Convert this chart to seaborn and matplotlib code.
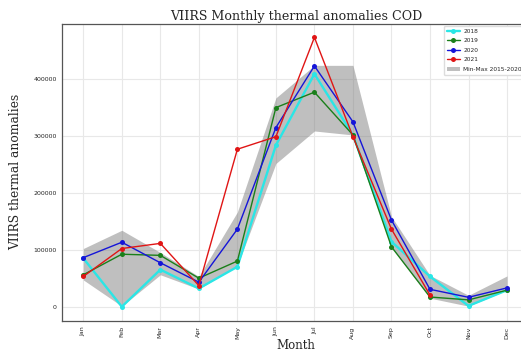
import numpy as np
import pandas as pd
import matplotlib
matplotlib.use("Agg")
import matplotlib.pyplot as plt
import seaborn as sns

months = ["Jan", "Feb", "Mar", "Apr", "May", "Jun", "Jul", "Aug", "Sep", "Oct", "Nov", "Dec"]
v2018 = [86000, 1000, 66000, 33000, 71000, 284000, 409000, 302000, 115000, 54000, 2500, 30000]
v2019 = [57000, 93000, 91000, 51000, 81000, 350000, 377000, 302000, 106000, 18000, 13000, 30000]
v2020 = [87000, 114000, 78000, 44000, 137000, 315000, 423000, 325000, 153000, 31500, 17500, 34000]
v2021 = [54000, 103000, 112000, 38000, 277000, 299000, 473000, 299000, 137000, 21500]
band_min = [48000, 2000, 57000, 32000, 73000, 252000, 309000, 302000, 105000, 16000, 2000, 30000]
band_max = [103000, 135000, 96000, 54000, 167000, 367000, 424000, 424000, 159000, 56000, 21000, 55000]

series = {"2018": v2018, "2019": v2019, "2020": v2020, "2021": v2021}
colors = {"2018": "#2ae6e6", "2019": "#1a7f1a", "2020": "#1515d8", "2021": "#e01515"}

sns.set_style("whitegrid", {"grid.color": "#e8e8e8", "axes.edgecolor": "#555555"})

fig = plt.figure(figsize=(5.21, 3.49), dpi=100)
ax = fig.add_axes([62.3 / 521, 1 - 320.7 / 349, (530 - 62.3) / 521, (320.7 - 23.7) / 349])

x_all = np.arange(len(months))
ax.fill_between(x_all, band_min, band_max, color="gray", alpha=0.5, lw=0,
                label="Min-Max 2015-2020", zorder=1)

for name, vals in series.items():
    df = pd.DataFrame({"x": x_all[:len(vals)], "y": vals})
    lw = 1.7 if name == "2018" else 1.0
    sns.lineplot(data=df, x="x", y="y", ax=ax, color=colors[name], marker="o",
                 markersize=3.6, markeredgewidth=0, linewidth=lw, label=name, zorder=3)

unit = 38.52
ax.set_xlim(-21 / unit, -21 / unit + (530 - 62.3) / unit)
ax.set_ylim(-23500, 497000)
ax.set_xticks(x_all)
ax.set_xticklabels(months, rotation=90, fontsize=4.5)
ax.set_yticks([0, 100000, 200000, 300000, 400000])
ax.set_yticklabels(["0", "100000", "200000", "300000", "400000"], fontsize=4.5)
ax.tick_params(axis="both", length=2, width=0.5, color="#555555", pad=2)
for s in ax.spines.values():
    s.set_linewidth(0.9)

ax.set_title("VIIRS Monthly thermal anomalies COD", family="DejaVu Serif", fontsize=9.1, pad=3)
ax.set_ylabel("VIIRS thermal anomalies", family="DejaVu Serif", fontsize=8.8, labelpad=8)
ax.set_xlabel("Month", family="DejaVu Serif", fontsize=8.5, labelpad=-0.5)

handles, labels = ax.get_legend_handles_labels()
order = [labels.index(l) for l in ["2018", "2019", "2020", "2021", "Min-Max 2015-2020"]]
ax.legend([handles[i] for i in order], [labels[i] for i in order], fontsize=4.2,
          loc="upper left", bbox_to_anchor=(444 / 521, 1 - 26 / 349),
          bbox_transform=fig.transFigure, frameon=True, borderaxespad=0,
          handlelength=2.2, handletextpad=0.6, borderpad=0.5,
          labelspacing=0.75, framealpha=1, edgecolor="#dddddd")

fig.savefig("out.png", dpi=100)
